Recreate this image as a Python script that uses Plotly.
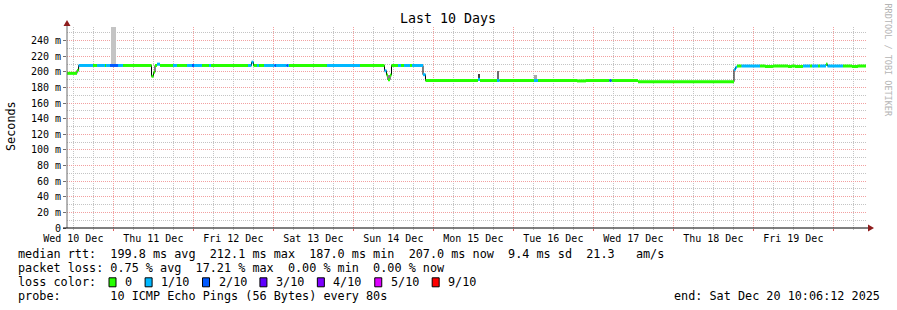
import plotly.graph_objects as go
import pandas as pd

# ---------------- data ----------------
axis_start = "2025-12-10 10:06:12"
axis_end = "2025-12-20 10:06:12"

seg_start = [
    "2025-12-10 10:06", "2025-12-10 13:06", "2025-12-10 13:35", "2025-12-10 17:54",
    "2025-12-10 19:06", "2025-12-10 21:30", "2025-12-10 21:48", "2025-12-10 23:00",
    "2025-12-11 01:24", "2025-12-11 02:54", "2025-12-11 11:27", "2025-12-11 12:03",
    "2025-12-11 12:30", "2025-12-11 13:06", "2025-12-11 14:00", "2025-12-11 17:54",
    "2025-12-11 19:06", "2025-12-11 22:06", "2025-12-11 23:36", "2025-12-12 00:12",
    "2025-12-12 02:36", "2025-12-12 04:42", "2025-12-12 05:18", "2025-12-12 16:24",
    "2025-12-12 17:27", "2025-12-12 18:03", "2025-12-12 19:06", "2025-12-12 19:42",
    "2025-12-12 21:12", "2025-12-13 00:21", "2025-12-13 00:48", "2025-12-13 03:57",
    "2025-12-13 04:24", "2025-12-13 04:42", "2025-12-13 16:06", "2025-12-14 02:00",
    "2025-12-14 09:21", "2025-12-14 09:57", "2025-12-14 10:24", "2025-12-14 11:00",
    "2025-12-14 11:27", "2025-12-14 13:24", "2025-12-14 14:18", "2025-12-14 15:12",
    "2025-12-14 17:00", "2025-12-14 17:36", "2025-12-14 20:54", "2025-12-14 21:39",
    "2025-12-15 13:24", "2025-12-15 14:00", "2025-12-15 19:06", "2025-12-15 19:51",
    "2025-12-16 06:12", "2025-12-16 07:24", "2025-12-16 19:06", "2025-12-16 21:48",
    "2025-12-17 04:51", "2025-12-17 05:27", "2025-12-17 13:24", "2025-12-18 18:12",
    "2025-12-18 18:39", "2025-12-18 19:06", "2025-12-18 20:27", "2025-12-19 02:00",
    "2025-12-19 03:30", "2025-12-19 05:54", "2025-12-19 10:24", "2025-12-19 11:36",
    "2025-12-19 12:30", "2025-12-19 14:54", "2025-12-19 17:00", "2025-12-19 17:36",
    "2025-12-19 19:24", "2025-12-19 20:00", "2025-12-19 21:48", "2025-12-19 22:15",
    "2025-12-20 02:54", "2025-12-20 05:36", "2025-12-20 07:24",
]
data_end = "2025-12-20 09:48"

# median rtt (ms)
seg_median = [
    198.2, 202.0, 208.3, 208.3, 208.3, 208.3, 208.3, 208.3,
    208.3, 208.3, 194.5, 199.5, 208.3, 210.0, 208.3, 208.3,
    208.3, 208.3, 208.3, 208.3, 208.3, 208.3, 208.3, 208.3,
    212.5, 208.3, 208.3, 208.3, 208.3, 208.3, 208.3, 208.3,
    208.3, 208.3, 208.3, 208.3, 201.5, 196.0, 190.0, 196.0,
    208.3, 208.3, 208.3, 208.3, 208.3, 208.3, 196.5, 189.0,
    190.5, 189.0, 189.0, 189.0, 189.0, 189.0, 188.5, 189.0,
    189.0, 189.0, 187.5, 203.0, 206.0, 207.6, 207.6, 207.6,
    207.0, 207.6, 207.0, 207.6, 207.0, 207.6, 207.6, 207.6,
    207.6, 207.6, 210.0, 207.6, 207.6, 207.0, 207.6,
]

# loss category index (into loss_labels)
seg_loss = [
    0, 0, 1, 0, 1, 0, 1, 2,
    1, 0, 0, 0, 0, 1, 0, 1,
    0, 1, 2, 1, 0, 1, 0, 1,
    1, 0, 1, 0, 1, 2, 1, 2,
    1, 0, 1, 0, 1, 0, 0, 0,
    0, 1, 0, 1, 0, 1, 1, 0,
    1, 0, 1, 0, 1, 0, 0, 0,
    2, 0, 0, 1, 1, 0, 1, 0,
    0, 0, 0, 0, 0, 1, 0, 1,
    0, 1, 0, 1, 0, 0, 0,
]

loss_labels = ["0", "1/10", "2/10", "3/10", "4/10", "5/10", "9/10"]
loss_colors = ["#26ff00", "#00b8ff", "#0059ff", "#5e00ff", "#7e00ff", "#dd00ff", "#ff0000"]

# smoke (spread of individual pings)
smoke_start = ["2025-12-10 23:13", "2025-12-15 13:24", "2025-12-15 19:06", "2025-12-16 06:12"]
smoke_end = ["2025-12-11 00:43", "2025-12-15 14:00", "2025-12-15 19:51", "2025-12-16 07:06"]
smoke_low = [208.3, 190.0, 189.0, 189.0]
smoke_high = [300.0, 197.5, 201.0, 196.0]
smoke_color = ["#c4c4c4", "#404040", "#6e6e6e", "#a8a8a8"]

day_labels_at = [f"2025-12-{d} 12:00" for d in range(10, 20)]
midnights = [f"2025-12-{d} 00:00" for d in range(11, 21)]
y_ticks = list(range(0, 241, 20))
y_text = ["0"] + [f"{v} m" for v in y_ticks[1:]]

stats_rtt = "median rtt:  199.8 ms avg  212.1 ms max  187.0 ms min  207.0 ms now  9.4 ms sd  21.3   am/s"
stats_loss = "packet loss: 0.75 % avg  17.21 % max  0.00 % min  0.00 % now"
probe_text = "probe:       10 ICMP Echo Pings (56 Bytes) every 80s"
end_text = "end: Sat Dec 20 10:06:12 2025"

# ---------------- geometry helpers (layout decoration only) ----------------
W, H = 897, 310
L, R, T, B = 67, 30, 27, 82
PW, PH = W - L - R, H - T - B


def px(x):
    return (x - L) / PW


def py(y):
    return (T + PH - y) / PH


MONO = "DejaVu Sans Mono"
nb = lambda s: s.replace(" ", "\u00a0")

fig = go.Figure()

# invisible trace to anchor the grid axis
fig.add_trace(go.Scatter(x=[axis_start, axis_end], y=[0, 0], xaxis="x2", yaxis="y",
                         mode="lines", line=dict(width=0), opacity=0,
                         hoverinfo="skip", showlegend=False))

# smoke
ss = pd.to_datetime(smoke_start)
se = pd.to_datetime(smoke_end)
fig.add_trace(go.Bar(
    x=ss + (se - ss) / 2,
    y=[h - l for h, l in zip(smoke_high, smoke_low)],
    base=smoke_low,
    width=[(e - s).total_seconds() * 1000 for s, e in zip(ss, se)],
    marker=dict(color=smoke_color, line=dict(width=0)),
    hoverinfo="skip", showlegend=False,
))

# black median step line
fig.add_trace(go.Scatter(
    x=seg_start + [data_end], y=seg_median + [seg_median[-1]],
    mode="lines", line=dict(color="#000000", width=1, shape="hv"),
    hoverinfo="skip", showlegend=False,
))

# loss-coloured median segments
seg_end = seg_start[1:] + [data_end]
for ci, col in enumerate(loss_colors):
    xs, ys = [], []
    for s, e, v, c in zip(seg_start, seg_end, seg_median, seg_loss):
        if c == ci:
            xs += [s, e, None]
            ys += [v, v, None]
    if xs:
        fig.add_trace(go.Scatter(x=xs, y=ys, mode="lines",
                                 line=dict(color=col, width=3),
                                 hoverinfo="skip", showlegend=False))

RED_GRID = "#f2a0a0"
GRAY_GRID = "#c4c4c4"
DOT = "1px,1px"

fig.update_layout(
    width=W, height=H,
    margin=dict(l=L, r=R, t=T, b=B, pad=0),
    paper_bgcolor="white", plot_bgcolor="white",
    barmode="overlay", bargap=0,
    font=dict(family=MONO, color="black"),
    xaxis=dict(
        type="date", range=[axis_start, axis_end],
        tickvals=day_labels_at, tickformat="%a %d %b",
        tickfont=dict(family=MONO, size=10, color="black"),
        ticks="", ticklabelstandoff=3, showgrid=False, zeroline=False, showline=False,
        fixedrange=True,
    ),
    xaxis2=dict(
        type="date", range=[axis_start, axis_end], overlaying="x", anchor="y", side="bottom",
        tickvals=midnights, showticklabels=False,
        showgrid=True, gridcolor=RED_GRID, griddash=DOT, gridwidth=1,
        ticks="outside", ticklen=2, tickcolor="#e06060",
        minor=dict(dtick=6 * 3600 * 1000, tick0="2025-12-10 00:00",
                   showgrid=True, gridcolor=GRAY_GRID, griddash=DOT,
                   ticks="outside", ticklen=1, tickcolor="#bbbbbb"),
        showline=False, zeroline=False,
    ),
    yaxis=dict(
        range=[0, 257.6], tickvals=y_ticks, ticktext=y_text,
        tickfont=dict(family=MONO, size=10, color="black"),
        showgrid=True, gridcolor=RED_GRID, griddash=DOT, gridwidth=1,
        minor=dict(dtick=10, tick0=0, showgrid=True, gridcolor=GRAY_GRID, griddash=DOT),
        ticks="outside", ticklen=3, tickcolor="#707070",
        zeroline=False, showline=False,
    ),
)

shapes = []
# axis lines
shapes.append(dict(type="line", xref="paper", yref="paper",
                   x0=px(67), x1=px(67), y0=py(228), y1=py(24),
                   line=dict(color="#6a6a6a", width=1), layer="above"))
shapes.append(dict(type="line", xref="paper", yref="paper",
                   x0=px(63), x1=px(870), y0=py(228), y1=py(228),
                   line=dict(color="#000000", width=1), layer="above"))
# arrows
ARROW = "#8e1c1c"
shapes.append(dict(type="path", xref="paper", yref="paper",
                   path=f"M {px(63.5)} {py(26)} L {px(70.5)} {py(26)} L {px(67)} {py(20)} Z",
                   fillcolor=ARROW, line=dict(width=0), layer="above"))
shapes.append(dict(type="path", xref="paper", yref="paper",
                   path=f"M {px(868)} {py(224.5)} L {px(868)} {py(231.5)} L {px(874)} {py(228)} Z",
                   fillcolor=ARROW, line=dict(width=0), layer="above"))

annotations = []
LF = 11.8
# title
annotations.append(dict(text="Last 10 Days", xref="paper", yref="paper",
                        x=px(448), y=py(19), xanchor="center", yanchor="middle",
                        showarrow=False, font=dict(family=MONO, size=13.3, color="black")))
# y-axis unit
annotations.append(dict(text="Seconds", xref="paper", yref="paper",
                        x=px(11), y=py(126), xanchor="center", yanchor="middle", textangle=-90,
                        showarrow=False, font=dict(family=MONO, size=LF, color="black")))
# watermark
annotations.append(dict(text=nb("RRDTOOL / TOBI OETIKER"), xref="paper", yref="paper",
                        x=px(887.5), y=py(60), xanchor="center", yanchor="middle", textangle=90,
                        showarrow=False, font=dict(family=MONO, size=8.5, color="#b4b4b4")))
# legend rows
rows_y = [254.3, 268.3, 282.3, 296.2]
for txt, yy in [(stats_rtt, rows_y[0]), (stats_loss, rows_y[1]),
                ("loss color:", rows_y[2]), (probe_text, rows_y[3])]:
    annotations.append(dict(text=nb(txt), xref="paper", yref="paper",
                            x=px(16), y=py(yy), xanchor="left", yanchor="middle",
                            showarrow=False, font=dict(family=MONO, size=LF, color="black")))
annotations.append(dict(text=nb(end_text), xref="paper", yref="paper",
                        x=px(882), y=py(rows_y[3]), xanchor="right", yanchor="middle",
                        showarrow=False, font=dict(family=MONO, size=LF, color="black")))

# loss colour boxes
char_w = LF * 0.602
bx = 109.0
for lab, col in zip(loss_labels, loss_colors):
    shapes.append(dict(type="rect", xref="paper", yref="paper",
                       x0=px(bx), x1=px(bx + 7), y0=py(rows_y[2] - 4.5), y1=py(rows_y[2] + 4.5),
                       fillcolor=col, line=dict(color="black", width=1), layer="above"))
    annotations.append(dict(text=lab, xref="paper", yref="paper",
                            x=px(bx + 14), y=py(rows_y[2]), xanchor="left", yanchor="middle",
                            showarrow=False, font=dict(family=MONO, size=LF, color="black")))
    bx = bx + 14 + len(lab) * char_w + 15

fig.update_layout(shapes=shapes, annotations=annotations)

fig.write_html("out.html")
